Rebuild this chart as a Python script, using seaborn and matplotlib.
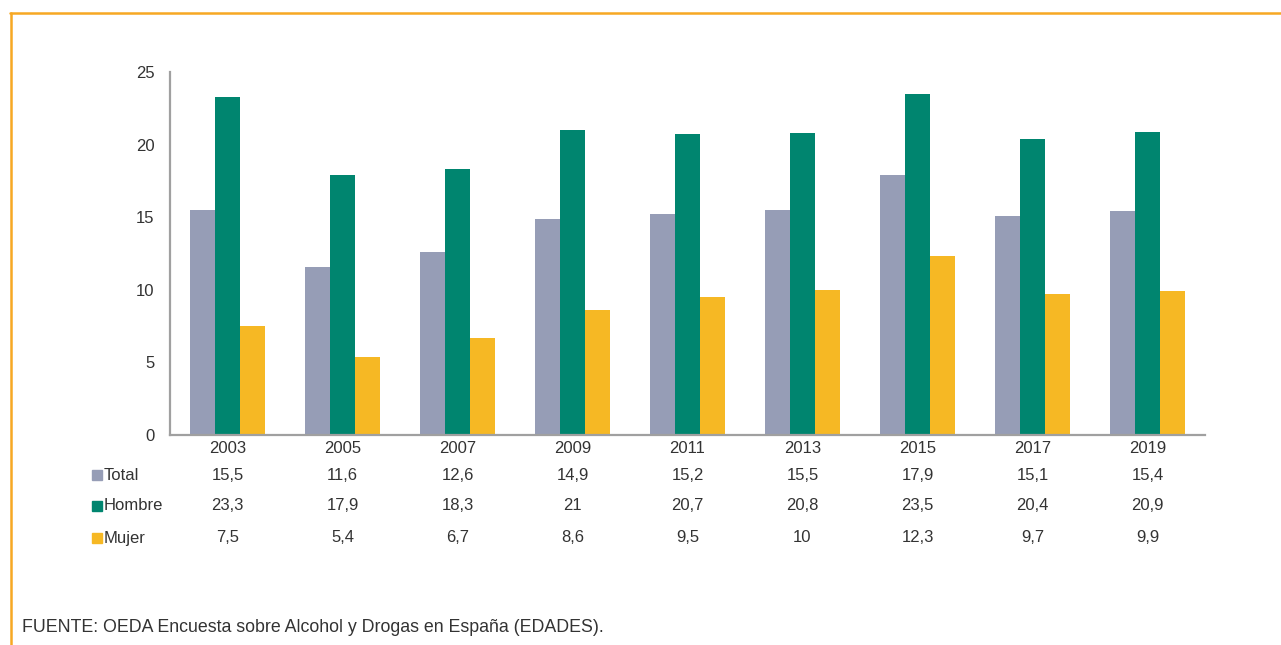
import matplotlib
matplotlib.use("Agg")
import matplotlib.pyplot as plt
import seaborn as sns
import pandas as pd
from matplotlib.lines import Line2D
from matplotlib.patches import Rectangle
import matplotlib.transforms as mtrans

years = ["2003", "2005", "2007", "2009", "2011", "2013", "2015", "2017", "2019"]
total = [15.5, 11.6, 12.6, 14.9, 15.2, 15.5, 17.9, 15.1, 15.4]
hombre = [23.3, 17.9, 18.3, 21, 20.7, 20.8, 23.5, 20.4, 20.9]
mujer = [7.5, 5.4, 6.7, 8.6, 9.5, 10, 12.3, 9.7, 9.9]
series_names = ["Total", "Hombre", "Mujer"]
colors = ["#969DB6", "#00856F", "#F6B824"]
yticks = [0, 5, 10, 15, 20, 25]
source = "FUENTE: OEDA Encuesta sobre Alcohol y Drogas en España (EDADES)."

sns.set_theme(style="white")
plt.rcParams['font.family'] = ['Liberation Sans', 'DejaVu Sans']

rows = []
for name, vals in zip(series_names, [total, hombre, mujer]):
    for y, v in zip(years, vals):
        rows.append({"year": y, "serie": name, "valor": v})
df = pd.DataFrame(rows)

W, H = 1281, 645
FS = 12
fig = plt.figure(figsize=(W / 100, H / 100), dpi=100)
ax = fig.add_axes([170 / W, 1 - 435 / H, (1205 - 170) / W, (435 - 72) / H])

sns.barplot(data=df, x="year", y="valor", hue="serie", palette=colors,
            width=0.65, gap=0, saturation=1, ax=ax, legend=False, errorbar=None,
            linewidth=0, edgecolor="none")

ax.set_xlim(-0.5, len(years) - 0.5)
ax.set_ylim(0, 25)
ax.set_yticks(yticks)
ax.set_yticklabels([str(t) for t in yticks], fontsize=FS, color="#333333")
ax.tick_params(axis="x", labelsize=FS, colors="#333333", length=0, pad=4)
ax.tick_params(axis="y", length=0, pad=11)
ax.set_xlabel("")
ax.set_ylabel("")
for s in ["top", "right"]:
    ax.spines[s].set_visible(False)
for s in ["left", "bottom"]:
    ax.spines[s].set_color("#A0A0A0")
    ax.spines[s].set_linewidth(1.6)

# data table
trans = mtrans.blended_transform_factory(ax.transData, fig.transFigure)
row_y = [475, 506, 538]
for name, vals, col, ry in zip(series_names, [total, hombre, mujer], colors, row_y):
    yf = 1 - ry / H
    fig.patches.append(Rectangle((92 / W, yf - 5 / H), 10 / W, 10 / H,
                                 transform=fig.transFigure, color=col))
    fig.text(104 / W, yf, name, fontsize=FS, color="#333333", va="center", ha="left")
    for i, v in enumerate(vals):
        label = f"{v:g}".replace(".", ",")
        ax.text(i, yf, label, transform=trans, fontsize=FS, color="#333333",
                ha="center", va="center")

fig.text(22 / W, 1 - 627 / H, source, fontsize=12.8, color="#333333", va="center", ha="left")

# orange frame
orange = "#F7A823"
fig.lines.append(Line2D([10 / W, 1], [1 - 12.5 / H, 1 - 12.5 / H], transform=fig.transFigure,
                        color=orange, linewidth=1.8))
fig.lines.append(Line2D([10.5 / W, 10.5 / W], [0, 1 - 12.5 / H], transform=fig.transFigure,
                        color=orange, linewidth=1.8))

fig.savefig("out.png", dpi=100)
